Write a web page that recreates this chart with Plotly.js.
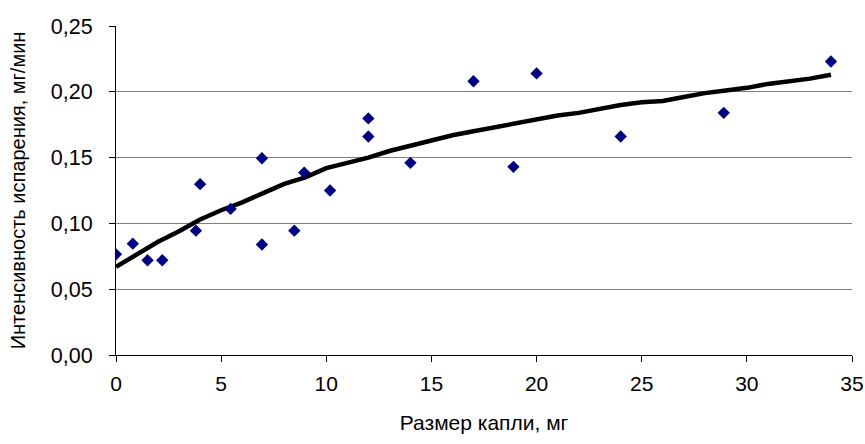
<!DOCTYPE html>
<html>
<head>
<meta charset="utf-8">
<script src="https://cdn.plot.ly/plotly-3.0.1.min.js"></script>
<style>html,body{margin:0;padding:0;background:#fff;}#chart{width:865px;height:444px;}</style>
</head>
<body>
<div id="chart"></div>
<script>
// Measured points: drop size (mg) vs evaporation rate (mg/min)
const pointX = [0, 0.8, 1.5, 2.2, 3.8, 4.0, 5.45, 6.94, 6.94, 8.48, 8.95, 10.18, 12.0, 12.0, 14.0, 17.0, 18.9, 20.0, 24.0, 28.9, 34.0];
const pointY = [0.0765, 0.0846, 0.072, 0.072, 0.0945, 0.1298, 0.111, 0.0840, 0.1495, 0.0945, 0.1386, 0.125, 0.1798, 0.166, 0.146, 0.208, 0.143, 0.214, 0.166, 0.184, 0.223];

// Trend curve
const trendX = [0, 1, 2, 3, 4, 5, 6, 7, 8, 9, 10, 11, 12, 13, 14, 15, 16, 17, 18, 19, 20, 21, 22, 23, 24, 25, 26, 27, 28, 29, 30, 31, 32, 33, 34];
const trendY = [0.067, 0.077, 0.086, 0.094, 0.103, 0.110, 0.116, 0.123, 0.130, 0.135, 0.142, 0.146, 0.150, 0.155, 0.159, 0.163, 0.167, 0.170, 0.173, 0.176, 0.179, 0.182, 0.184, 0.187, 0.190, 0.192, 0.193, 0.196, 0.199, 0.201, 0.203, 0.206, 0.208, 0.210, 0.213];

const xTickVals = [0, 5, 10, 15, 20, 25, 30, 35];
const yTickVals = [0, 0.05, 0.10, 0.15, 0.20, 0.25];
const yTickText = ['0,00', '0,05', '0,10', '0,15', '0,20', '0,25'];

const FONT = 'Arial, "Liberation Sans", sans-serif';

const traces = [
  {
    x: trendX, y: trendY, type: 'scatter', mode: 'lines',
    line: {color: '#000000', width: 4.5}, hoverinfo: 'skip', showlegend: false
  },
  {
    x: pointX, y: pointY, type: 'scatter', mode: 'markers',
    marker: {symbol: 'diamond', size: 9.5, color: '#000080', line: {width: 0}},
    showlegend: false
  }
];

const layout = {
  width: 865, height: 444,
  margin: {l: 116, r: 13, t: 26, b: 89, pad: 0},
  paper_bgcolor: '#ffffff', plot_bgcolor: '#ffffff',
  font: {family: FONT, size: 21, color: '#000000'},
  showlegend: false,
  xaxis: {
    range: [0, 35], tickvals: xTickVals, ticktext: xTickVals.map(String),
    showgrid: false, zeroline: false,
    showline: true, linecolor: '#000000', linewidth: 1,
    ticks: 'outside', ticklen: 6, tickcolor: '#000000', tickwidth: 1,
    ticklabelstandoff: 4,
    tickfont: {family: FONT, size: 21, color: '#000000'},
    title: {text: 'Размер капли, мг', font: {family: FONT, size: 21, color: '#000000'}, standoff: 21}
  },
  yaxis: {
    range: [0, 0.25], tickvals: yTickVals, ticktext: yTickText,
    showgrid: true, gridcolor: '#808080', gridwidth: 1,
    zeroline: false,
    showline: true, linecolor: '#000000', linewidth: 1,
    ticks: 'outside', ticklen: 6, tickcolor: '#000000', tickwidth: 1,
    ticklabelstandoff: 12,
    tickfont: {family: FONT, size: 21.5, color: '#000000'},
    title: {text: 'Интенсивность испарения, мг/мин', font: {family: FONT, size: 20, color: '#000000'}, standoff: 19}
  }
};

Plotly.newPlot('chart', traces, layout, {staticPlot: true, displayModeBar: false});
</script>
</body>
</html>
